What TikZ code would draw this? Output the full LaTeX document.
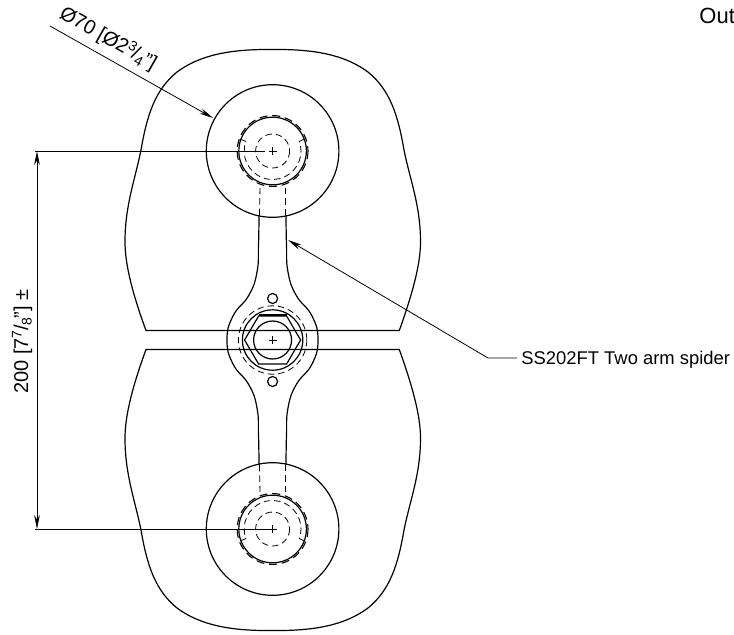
\documentclass[tikz,border=0pt]{standalone}
\usepackage{fontspec}
\setmainfont{Liberation Sans}
\usetikzlibrary{arrows.meta}

\newcommand{\frc}[2]{\raisebox{0.6ex}{\fontsize{7}{7}\selectfont #1}\kern-0.3pt/\kern-0.3pt\raisebox{-0.35ex}{\fontsize{7}{7}\selectfont #2}}

\tikzset{
    solidline/.style={line width=0.6pt},
    hiddenline/.style={line width=0.4pt, dash pattern=on 3.2pt off 2pt},
    boltline/.style={line width=0.55pt, dash pattern=on 4pt off 2.4pt},
    dimline/.style={line width=0.4pt},
    dimarrow/.style={dimline, -{Stealth[length=7pt, width=2.8pt]}},
    dimtext/.style={inner sep=0pt, font=\fontsize{10}{12}\selectfont},
    notetext/.style={inner sep=0pt, font=\fontsize{9.2}{11}\selectfont},
}

\begin{document}
\begin{tikzpicture}[x=0.5pt, y=-0.5pt]
    \useasboundingbox (0, 0) rectangle (734, 634);

    \coordinate (c1) at (272.6, 151);
    \coordinate (c2) at (272.6, 340);
    \coordinate (c3) at (272.6, 529);

    % Upper glass plate
    \draw[solidline] (146, 330.5) .. controls (133, 295) and (125, 265) .. (125, 242)
        .. controls (125, 205) and (135, 180) .. (141, 150)
        .. controls (147, 115) and (155, 90) .. (177, 72)
        .. controls (200, 55) and (230, 49) .. (272.6, 49.5)
        .. controls (315, 49) and (345, 55) .. (368, 72)
        .. controls (390, 90) and (398, 115) .. (404, 150)
        .. controls (410, 180) and (420.5, 205) .. (420.5, 242)
        .. controls (420.5, 265) and (412, 295) .. (399.3, 330.5) -- cycle;

    % Lower glass plate
    \draw[solidline] (146, 349.5) .. controls (133, 385) and (125, 415) .. (125, 438)
        .. controls (125, 475) and (135, 500) .. (141, 530)
        .. controls (147, 565) and (155, 590) .. (177, 608)
        .. controls (200, 625) and (230, 631) .. (272.6, 630.5)
        .. controls (315, 631) and (345, 625) .. (368, 608)
        .. controls (390, 590) and (398, 565) .. (404, 530)
        .. controls (410, 500) and (420.5, 475) .. (420.5, 438)
        .. controls (420.5, 415) and (412, 385) .. (399.3, 349.5) -- cycle;

    % Upper fitting
    \draw[solidline] (c1) circle (66.3);
    \draw[solidline] (c1) circle (33.8);
    \draw[boltline] (c1) circle (35.4);
    \draw[hiddenline] (c1) circle (17);
    \draw[hiddenline] (240, 139) -- (245.9, 141.4) arc[start angle=200, end angle=-20, radius=28.4] -- (305, 139);
    \draw[hiddenline] (259.5, 215) -- (260, 186);
    \draw[hiddenline] (285.5, 215) -- (285.5, 186);
    \draw[dimline] (c1) ++(-4, 0) -- ++(8, 0);
    \draw[dimline] (c1) ++(0, -4) -- ++(0, 8);

    % Lower fitting
    \draw[solidline] (c3) circle (66.3);
    \draw[solidline] (c3) circle (33.8);
    \draw[boltline] (c3) circle (35.4);
    \draw[hiddenline] (c3) circle (17);
    \draw[hiddenline] (240, 541) -- (245.9, 538.6) arc[start angle=160, end angle=380, radius=28.4] -- (305, 541);
    \draw[hiddenline] (259.5, 465) -- (260, 494);
    \draw[hiddenline] (285.5, 465) -- (285.5, 494);
    \draw[dimline] (c3) ++(-4, 0) -- ++(8, 0);
    \draw[dimline] (c3) ++(0, -4) -- ++(0, 8);

    % Spider arms
    \draw[solidline] plot[smooth, tension=0.8] coordinates {(259, 215) (258.5, 245) (257, 272) (249, 295) (233, 316) (227, 340) (233, 364) (249, 385) (257, 408) (258.5, 435) (259, 465)};
    \draw[solidline] plot[smooth, tension=0.8] coordinates {(286, 215) (286.5, 245) (288, 272) (296, 295) (312, 316) (318, 340) (312, 364) (296, 385) (288, 408) (286.5, 435) (286, 465)};

    % Centre bolt
    \draw[solidline] (272.6, 298.5) circle (5);
    \draw[solidline] (272.6, 381.5) circle (5);
    \draw[hiddenline] (c2) circle (34.2);
    \draw[solidline] (c2) circle (30.2);
    \draw[solidline] (c2) circle (19);
    \draw[solidline] (c2) ++(-28, 0) -- ++(14, -24) -- ++(28, 0) -- ++(14, 24) -- ++(-14, 24) -- ++(-28, 0) -- cycle;
    \draw[solidline] (258.6, 315) -- (286.6, 315);
    \draw[dimline] (c2) ++(-4, 0) -- ++(8, 0);
    \draw[dimline] (c2) ++(0, -4) -- ++(0, 8);

    % Height dimension
    \coordinate (dimTop) at (37, 151);
    \coordinate (dimBot) at (37, 529);
    \coordinate (extTop) at (265, 151);
    \coordinate (extBot) at (269, 529);
    \draw[dimline] (35, 151) -- (extTop);
    \draw[dimline] (35, 529) -- (extBot);
    \draw[dimarrow, {Stealth[length=7pt, width=2.8pt]}-{Stealth[length=7pt, width=2.8pt]}] (dimTop) -- (dimBot);
    \node[dimtext, rotate=90, anchor=base east] (lblHeight) at (28, 289) {200 [7\frc{7}{8}"] ±};

    % Diameter leader
    \coordinate (diaStart) at (50, 26);
    \coordinate (diaTip) at (213, 118);
    \draw[dimarrow] (diaStart) -- (diaTip);
    \node[dimtext, rotate=-29.5, anchor=base west] (lblDia) at (58, 17) {Ø70 [Ø2\frc{3}{4}"]};

    % Spider leader
    \coordinate (spiStart) at (517, 358);
    \coordinate (spiBend) at (488, 358);
    \coordinate (spiTip) at (288, 240);
    \draw[dimarrow] (spiStart) -- (spiBend) -- (spiTip);
    \node[notetext, anchor=base west] (lblSpider) at (521, 364) {SS202FT Two arm spider};

    \node[notetext, font=\fontsize{11}{13}\selectfont, anchor=base west] (lblOut) at (699, 23) {Out};
\end{tikzpicture}
\end{document}
